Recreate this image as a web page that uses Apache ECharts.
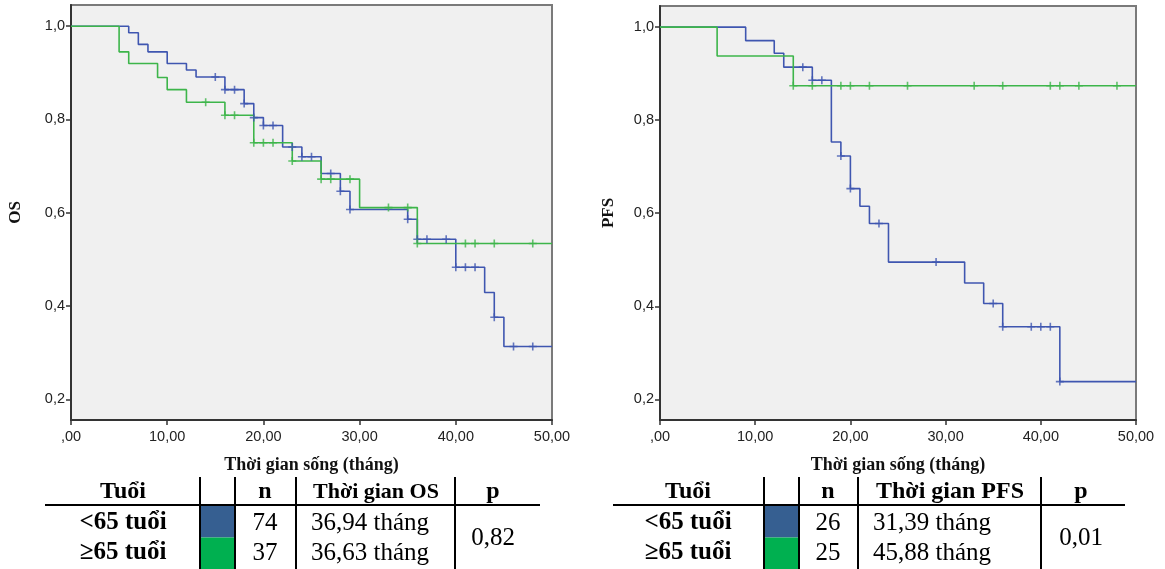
<!DOCTYPE html>
<html>
<head>
<meta charset="utf-8">
<script src="https://cdn.jsdelivr.net/npm/echarts@6/dist/echarts.min.js"></script>
<style>
html,body{margin:0;padding:0;background:#fff;}
#c{width:1165px;height:569px;}
</style>
</head>
<body>
<div id="c"></div>
<script>
// ---------- DATA ----------
const xTicks = [0, 10, 20, 30, 40, 50];
const yTicks = [0.2, 0.4, 0.6, 0.8, 1.0];

// OS, <65 (blue)
const osBlueTimes = [0, 6, 7, 8, 10, 12, 13, 16, 18, 19, 20, 22, 24, 26, 28, 29, 35, 36, 40, 43, 44, 45, 50];
const osBlueSurv  = [1.0, 0.986, 0.961, 0.945, 0.92, 0.906, 0.891, 0.864, 0.834, 0.804, 0.787, 0.741, 0.72, 0.684, 0.646, 0.607, 0.586, 0.543, 0.483, 0.429, 0.376, 0.313, 0.313];
const osBlueCensor = [15, 16, 17, 18, 19, 20, 21, 23, 24, 25, 27, 28, 29, 35, 36, 37, 39, 40, 41, 42, 44, 46, 48];
// OS, >=65 (green)
const osGreenTimes = [0, 5, 6, 9, 10, 12, 16, 19, 23, 26, 30, 36, 50];
const osGreenSurv  = [1.0, 0.945, 0.92, 0.89, 0.864, 0.837, 0.809, 0.75, 0.711, 0.672, 0.611, 0.534, 0.534];
const osGreenCensor = [14, 16, 17, 19, 20, 21, 23, 26, 27, 29, 33, 35, 36, 41, 42, 44, 48];
// PFS, <65 (blue)
const pfsBlueTimes = [0, 9, 12, 13, 16, 18, 19, 20, 21, 22, 24, 32, 34, 36, 42, 50];
const pfsBlueSurv  = [1.0, 0.971, 0.944, 0.914, 0.886, 0.753, 0.723, 0.653, 0.615, 0.578, 0.495, 0.45, 0.406, 0.356, 0.238, 0.238];
const pfsBlueCensor = [15, 16, 17, 19, 20, 23, 29, 35, 36, 39, 40, 41, 42];
// PFS, >=65 (green)
const pfsGreenTimes = [0, 6, 14, 50];
const pfsGreenSurv  = [1.0, 0.938, 0.874, 0.874];
const pfsGreenCensor = [14, 16, 19, 20, 22, 26, 33, 36, 41, 42, 44, 48];

// Tables
const groupLabels = ['<65 tuổi', '≥65 tuổi'];
const osHeaders = ['Tuổi', 'n', 'Thời gian OS', 'p'];
const osN = ['74', '37'];
const osTime = ['36,94 tháng', '36,63 tháng'];
const osP = '0,82';
const pfsHeaders = ['Tuổi', 'n', 'Thời gian PFS', 'p'];
const pfsN = ['26', '25'];
const pfsTime = ['31,39 tháng', '45,88 tháng'];
const pfsP = '0,01';

// ---------- STYLE ----------
const BLUE = '#3f56b0';
const GREEN = '#3db54a';
const BLOCK_BLUE = '#365f91';
const BLOCK_GREEN = '#00b050';
const SERIF = '"Liberation Serif", "Times New Roman", serif';
const SANS = '"Liberation Sans", Arial, sans-serif';
const PLUS = 'path://M4,0H6V4H10V6H6V10H4V6H0V4H4Z';

function pairs(t, s) { return t.map((v, i) => [v, s[i]]); }
function survAt(t, times, surv) {
  let v = surv[0];
  for (let i = 0; i < times.length; i++) { if (times[i] <= t) v = surv[i]; }
  return v;
}
function censorPts(c, times, surv) { return c.map(t => [t, survAt(t, times, surv)]); }

const grids = [
  { left: 71, top: 5, width: 481, height: 415 },
  { left: 660, top: 6, width: 476, height: 414 }
];

function xAxisDef(i) {
  return {
    gridIndex: i, type: 'value', min: 0, max: 50, interval: 10,
    name: 'Thời gian sống (tháng)', nameLocation: 'middle', nameGap: 36,
    nameTextStyle: { fontFamily: SERIF, fontWeight: 'bold', fontSize: 18, color: '#111' },
    axisLine: { show: true, onZero: false, lineStyle: { color: '#333', width: 2 } },
    axisTick: { show: true, length: 5, customValues: xTicks, lineStyle: { color: '#333', width: 1.5 } },
    axisLabel: { fontFamily: SANS, fontSize: 14.5, color: '#222', margin: 9, customValues: xTicks,
      formatter: v => v === 0 ? ',00' : v.toFixed(2).replace('.', ',') },
    splitLine: { show: false }
  };
}
function yAxisDef(i, name, gap) {
  return {
    gridIndex: i, type: 'value', min: 0.1555, max: 1.0455,
    name: name, nameLocation: 'middle', nameGap: gap, nameRotate: 90,
    nameTextStyle: { fontFamily: SERIF, fontWeight: 'bold', fontSize: 17, color: '#111' },
    axisLine: { show: true, onZero: false, lineStyle: { color: '#333', width: 2 } },
    axisTick: { show: true, length: 5, customValues: yTicks, lineStyle: { color: '#333', width: 1.5 } },
    axisLabel: { fontFamily: SANS, fontSize: 14.5, color: '#222', margin: 6, customValues: yTicks,
      formatter: v => v.toFixed(1).replace('.', ',') },
    splitLine: { show: false }
  };
}
function lineSeries(i, times, surv, color) {
  return { type: 'line', xAxisIndex: i, yAxisIndex: i, step: 'end', data: pairs(times, surv),
    showSymbol: false, symbol: 'none', lineStyle: { color: color, width: 1.6 }, itemStyle: { color: color },
    silent: true, animation: false };
}
function censorSeries(i, c, times, surv, color) {
  return { type: 'scatter', xAxisIndex: i, yAxisIndex: i, data: censorPts(c, times, surv),
    symbol: PLUS, symbolSize: 8, itemStyle: { color: color }, silent: true, animation: false, z: 3 };
}

// ---------- TABLES ----------
function tableGraphics(cfg) {
  const g = [];
  const line = (x1, y1, x2, y2) => g.push({ type: 'line', shape: { x1, y1, x2, y2 },
    style: { stroke: '#000', lineWidth: 2 }, silent: true });
  const text = (x, y, s, bold, size, align) => g.push({ type: 'text', x, y,
    style: { text: s, fill: '#000', font: (bold ? 'bold ' : '') + size + 'px ' + SERIF,
      textAlign: align || 'center', textVerticalAlign: 'middle' }, silent: true });
  g.push({ type: 'rect', shape: { x: cfg.v[0], y: 506, width: cfg.v[1] - cfg.v[0], height: 31.5 },
    style: { fill: BLOCK_BLUE }, silent: true });
  g.push({ type: 'rect', shape: { x: cfg.v[0], y: 537.5, width: cfg.v[1] - cfg.v[0], height: 32 },
    style: { fill: BLOCK_GREEN }, silent: true });
  line(cfg.h[0], 505, cfg.h[1], 505);
  cfg.v.forEach(x => line(x, 477, x, 569));
  text(cfg.cx[0], 492, cfg.headers[0], true, 24);
  text(cfg.cx[1], 492, cfg.headers[1], true, 24);
  text(cfg.cx[2], 492, cfg.headers[2], true, cfg.h2size);
  text(cfg.cx[3], 492, cfg.headers[3], true, 24);
  [0, 1].forEach(r => {
    const y = 523 + r * 30;
    text(cfg.cx[0], y, groupLabels[r], true, 25);
    text(cfg.cx[1], y, cfg.n[r], false, 25);
    text(cfg.timeX, y, cfg.time[r], false, 25, 'left');
  });
  text(cfg.cx[3], 538, cfg.p, false, 25);
  return g;
}

const graphics = [].concat(
  tableGraphics({ v: [200, 235, 296, 455], h: [45, 540], cx: [123, 265, 376, 493], timeX: 311,
    headers: osHeaders, n: osN, time: osTime, p: osP, h2size: 22 }),
  tableGraphics({ v: [764, 799, 858, 1041], h: [613, 1125], cx: [688, 828, 950, 1081], timeX: 873,
    headers: pfsHeaders, n: pfsN, time: pfsTime, p: pfsP, h2size: 24 })
);

const chart = echarts.init(document.getElementById('c'), null, { renderer: 'canvas' });
chart.setOption({
  animation: false,
  backgroundColor: '#fff',
  grid: grids.map(g => Object.assign({ show: true, backgroundColor: '#f0f0f0', borderColor: '#7a7a7a', borderWidth: 2, containLabel: false }, g)),
  xAxis: [xAxisDef(0), xAxisDef(1)],
  yAxis: [yAxisDef(0, 'OS', 47), yAxisDef(1, 'PFS', 43)],
  series: [
    lineSeries(0, osBlueTimes, osBlueSurv, BLUE),
    lineSeries(0, osGreenTimes, osGreenSurv, GREEN),
    censorSeries(0, osBlueCensor, osBlueTimes, osBlueSurv, BLUE),
    censorSeries(0, osGreenCensor, osGreenTimes, osGreenSurv, GREEN),
    lineSeries(1, pfsBlueTimes, pfsBlueSurv, BLUE),
    lineSeries(1, pfsGreenTimes, pfsGreenSurv, GREEN),
    censorSeries(1, pfsBlueCensor, pfsBlueTimes, pfsBlueSurv, BLUE),
    censorSeries(1, pfsGreenCensor, pfsGreenTimes, pfsGreenSurv, GREEN)
  ],
  graphic: graphics
});
</script>
</body>
</html>
